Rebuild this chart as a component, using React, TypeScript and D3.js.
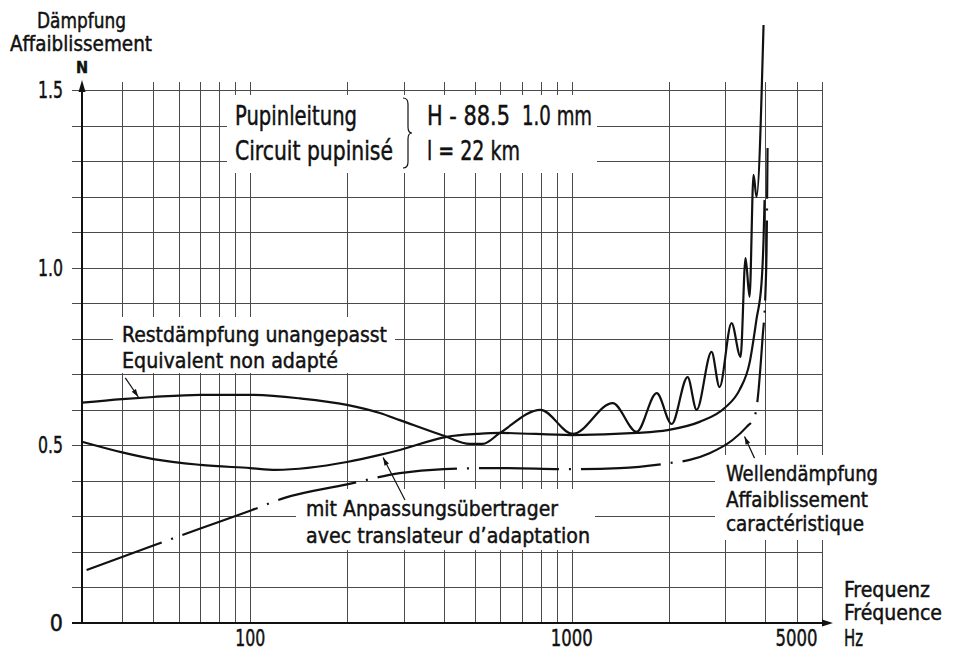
import React from "react";
import * as d3 from "d3";

// frequency in Hz, attenuation in N
const unmatchedFreq = [30, 40, 50, 70, 100, 143, 200, 253, 292, 400, 482, 529, 598, 800, 1007, 1341, 1592, 1837, 2045, 2292, 2445, 2721, 2881, 3140, 3349, 3471, 3572, 3675, 3754, 3948];
const unmatchedAtt = [0.62, 0.63, 0.636, 0.642, 0.642, 0.632, 0.614, 0.591, 0.571, 0.527, 0.504, 0.504, 0.535, 0.6, 0.532, 0.619, 0.538, 0.647, 0.56, 0.692, 0.6, 0.763, 0.664, 0.844, 0.749, 1.027, 0.918, 1.261, 1.199, 1.683];

const matchedFreq = [30, 40, 50, 70, 100, 120, 200, 253, 292, 409, 507, 598, 1000, 1592, 1987, 2497, 2987, 3325, 3572, 3754, 3892, 3948, 3977];
const matchedAtt = [0.51, 0.48, 0.461, 0.445, 0.436, 0.431, 0.453, 0.473, 0.487, 0.524, 0.532, 0.535, 0.529, 0.535, 0.543, 0.566, 0.605, 0.656, 0.732, 0.855, 0.957, 1.078, 1.19];

// Wellendämpfung (characteristic attenuation), dash-dot
const waveFreq = [31, 50, 70, 100, 128, 200, 292, 400, 598, 1000, 1409, 2015, 2326, 2683, 3162, 3498, 3701, 3754, 3920, 4005, 4034, 4063];
const waveAtt = [0.149, 0.218, 0.266, 0.316, 0.352, 0.39, 0.422, 0.433, 0.436, 0.433, 0.436, 0.45, 0.459, 0.478, 0.515, 0.552, 0.58, 0.605, 0.802, 0.937, 1.05, 1.337];

const gridFreq = [40, 50, 60, 70, 80, 90, 100, 200, 300, 400, 500, 600, 700, 800, 900, 1000, 2000, 3000, 4000, 5000, 6000];
const gridAtt = [0.1, 0.2, 0.3, 0.4, 0.5, 0.6, 0.7, 0.8, 0.9, 1.0, 1.1, 1.2, 1.3, 1.4, 1.5];
const yTickValues = [0, 0.5, 1.0, 1.5];
const yTickLabels = ["0", "0.5", "1.0", "1.5"];
const xTickValues = [100, 1000, 5000];
const xTickLabels = ["100", "1000", "5000"];

// leader lines: [fromHz, fromN, tipHz, tipN]
const leaders = [
  [40.9, 0.69, 44.9, 0.636],
  [303, 0.346, 259, 0.466],
  [3701, 0.464, 3445, 0.525],
];

const FONT = "'Liberation Sans Narrow', 'DejaVu Sans Condensed', 'Arial Narrow', 'Liberation Sans', sans-serif";

const Label = ({ x, y, w, size = 22, anchor = "start", weight = "normal", children }: any) => (
  <text x={x} y={y} fontSize={size} textAnchor={anchor} fontWeight={weight}
    textLength={w} lengthAdjust={w ? "spacingAndGlyphs" : undefined}
    fill="#111" stroke="#111" strokeWidth={0.45}>
    {children}
  </text>
);

function arrowHead(x1: number, y1: number, x2: number, y2: number, len = 9, half = 3) {
  const a = Math.atan2(y2 - y1, x2 - x1);
  const bx = x2 - len * Math.cos(a), by = y2 - len * Math.sin(a);
  const px = -Math.sin(a) * half, py = Math.cos(a) * half;
  return `M${x2},${y2}L${bx + px},${by + py}L${bx - px},${by - py}Z`;
}

export default function App() {
  const x = d3.scaleLog().domain([30, 6000]).range([82, 822]);
  const y = d3.scaleLinear().domain([0, 1.5]).range([623, 90]);

  const path = (fs: number[], as: number[]) =>
    d3.line<number>().x(i => x(fs[i])).y(i => y(as[i])).curve(d3.curveMonotoneX)(fs.map((_, i) => i)) || "";

  const x0 = x(30), x1 = x(6000), y0 = y(0), yTop = y(1.5);

  return (
    <svg width={962} height={650} style={{ position: "absolute", left: 0, top: 0, display: "block", background: "#fff" }}
      fontFamily={FONT}>
      {/* grid */}
      <g stroke="#4a4a4a" strokeWidth={1} shapeRendering="crispEdges">
        {gridAtt.map(v => <line key={"h" + v} x1={x0 - 10} x2={x1} y1={Math.round(y(v)) + 0.5} y2={Math.round(y(v)) + 0.5} />)}
        {gridFreq.map(f => <line key={"v" + f} x1={Math.round(x(f)) + 0.5} x2={Math.round(x(f)) + 0.5} y1={y0} y2={yTop - 8} />)}
      </g>

      {/* white knock-outs behind labels */}
      <g fill="#fff">
        <rect x={227} y={95} width={370} height={78} />
        <rect x={113} y={317} width={282} height={56} />
        <rect x={296} y={489} width={299} height={61} />
        <rect x={715} y={455} width={180} height={85} />
      </g>

      {/* axes */}
      <g stroke="#111" strokeWidth={2}>
        <line x1={x0 - 10} x2={x1 + 2} y1={y0} y2={y0} />
        <line x1={x0} x2={x0} y1={y0} y2={yTop - 2} />
      </g>
      <path d={arrowHead(x0, yTop, x0, yTop - 10, 12, 3.5)} fill="#111" />
      <path d={arrowHead(x1, y0, x1 + 11, y0, 11, 3.5)} fill="#111" />

      {/* curves */}
      <g fill="none" stroke="#111" strokeWidth={2.2} strokeLinejoin="round">
        <path d={path(unmatchedFreq, unmatchedAtt)} />
        <path d={path(matchedFreq, matchedAtt)} />
        <path d={path(waveFreq, waveAtt)} strokeDasharray="80,10,2,10" />
      </g>

      {/* leaders */}
      {leaders.map((l, i) => {
        const ax = x(l[0]), ay = y(l[1]), bx = x(l[2]), by = y(l[3]);
        return (
          <g key={"l" + i}>
            <line x1={ax} y1={ay} x2={bx} y2={by} stroke="#111" strokeWidth={1.2} />
            <path d={arrowHead(ax, ay, bx, by, 8, 2.5)} fill="#111" />
          </g>
        );
      })}

      {/* y axis title */}
      <Label x={37} y={28} w={89} size={21}>Dämpfung</Label>
      <Label x={10} y={51} w={142} size={21}>Affaiblissement</Label>
      <Label x={x0} y={73} size={16} anchor="middle" weight="bold">N</Label>

      {yTickValues.map((v, i) => (
        <Label key={"yt" + i} x={63} y={y(v) + 8} w={i === 0 ? undefined : 25} size={23} anchor="end">{yTickLabels[i]}</Label>
      ))}
      {xTickValues.map((v, i) => (
        <Label key={"xt" + i} x={x(v)} y={646} w={i === 0 ? 30 : 42} size={23} anchor="middle">{xTickLabels[i]}</Label>
      ))}
      <Label x={844} y={646} w={19} size={23}>Hz</Label>
      <Label x={844} y={597} w={86} size={21}>Frequenz</Label>
      <Label x={844} y={620} w={98} size={21}>Fréquence</Label>

      {/* line parameters */}
      <Label x={235} y={125} w={122} size={26}>Pupinleitung</Label>
      <Label x={235} y={160} w={158} size={26}>Circuit pupinisé</Label>
      <path d="M403,98 Q408,98 408,104 L408,127 Q408,133 412,133 Q408,133 408,139 L408,162 Q408,168 403,168"
        fill="none" stroke="#111" strokeWidth={1.2} />
      <Label x={427} y={125} w={83} size={26}>H - 88.5</Label>
      <Label x={522} y={125} w={70} size={26}>1.0 mm</Label>
      <Label x={427} y={160} w={93} size={26}>l = 22 km</Label>

      {/* curve labels */}
      <Label x={122} y={342} w={265} size={22}>Restdämpfung unangepasst</Label>
      <Label x={122} y={368} w={216} size={22}>Equivalent non adapté</Label>
      <Label x={306} y={516} w={252} size={22}>mit Anpassungsübertrager</Label>
      <Label x={306} y={543} w={284} size={22}>avec translateur d’adaptation</Label>
      <Label x={726} y={481} w={152} size={21}>Wellendämpfung</Label>
      <Label x={726} y={507} w={142} size={21}>Affaiblissement</Label>
      <Label x={726} y={531} w={138} size={21}>caractéristique</Label>
    </svg>
  );
}
